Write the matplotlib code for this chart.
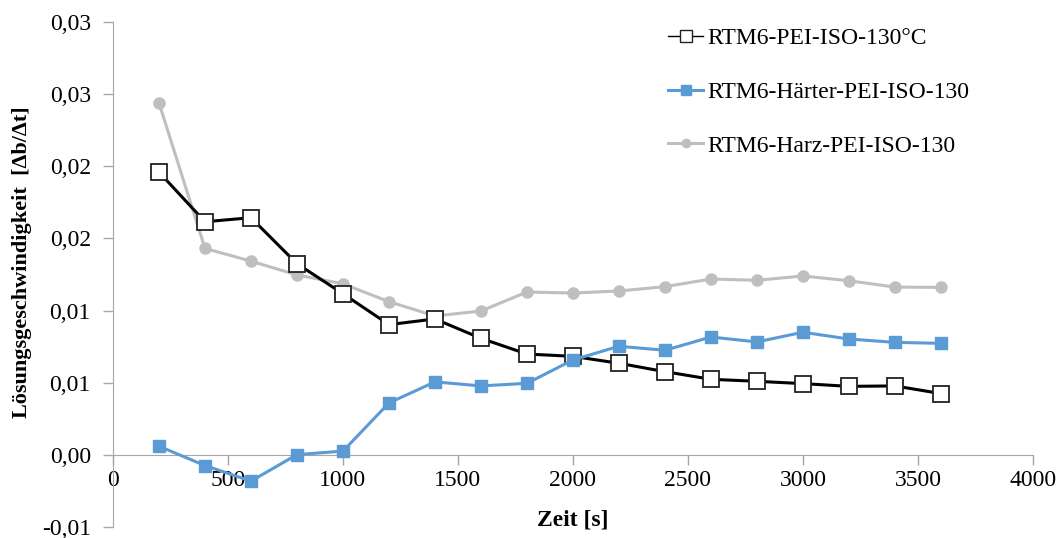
import numpy as np
import matplotlib.pyplot as plt
from matplotlib.ticker import MultipleLocator, FuncFormatter
from matplotlib.lines import Line2D

# Zeitpunkte [s]
zeit = [200, 400, 600, 800, 1000, 1200, 1400, 1600, 1800, 2000,
        2200, 2400, 2600, 2800, 3000, 3200, 3400, 3600]

# Loesungsgeschwindigkeit je Probe
rtm6_pei = [0.01960, 0.01616, 0.01644, 0.01325, 0.01117, 0.00903, 0.00942, 0.00808, 0.00699,
            0.00683, 0.00635, 0.00577, 0.00524, 0.00510, 0.00494, 0.00475, 0.00478, 0.00425]
rtm6_haerter = [0.00060, -0.00074, -0.00182, 0.00002, 0.00026, 0.00360, 0.00506, 0.00478, 0.00496,
                0.00658, 0.00753, 0.00725, 0.00817, 0.00783, 0.00850, 0.00803, 0.00780, 0.00773]
rtm6_harz = [0.02440, 0.01431, 0.01343, 0.01247, 0.01186, 0.01062, 0.00963, 0.00997, 0.01129,
             0.01122, 0.01136, 0.01166, 0.01219, 0.01210, 0.01240, 0.01207, 0.01163, 0.01161]

labels = ['RTM6-PEI-ISO-130°C', 'RTM6-Härter-PEI-ISO-130', 'RTM6-Harz-PEI-ISO-130']

plt.rcParams['font.family'] = ['Liberation Serif', 'DejaVu Serif']

fig = plt.figure(figsize=(10.61, 5.38), dpi=100)
ax = fig.add_axes([0.1065, 0.0204, 0.867, 0.9386])

#   Reihenfolge wie im Original: grau unten, blau oben
l3, = ax.plot(zeit, rtm6_harz, color='#BFBFBF', lw=2.2, marker='o', ms=8,
              mfc='#BFBFBF', mec='#BFBFBF', zorder=2)
l1, = ax.plot(zeit, rtm6_pei, color='black', lw=2.2, marker='s', ms=11,
              mfc='white', mec='#222222', mew=1.3, zorder=3)
l2, = ax.plot(zeit, rtm6_haerter, color='#5B9BD5', lw=2.2, marker='s', ms=8,
              mfc='#5B9BD5', mec='#5B9BD5', zorder=4)

ax.set_xlim(0, 4000)
ax.set_ylim(-0.005, 0.03)
ax.xaxis.set_major_locator(MultipleLocator(500))
ax.yaxis.set_major_locator(MultipleLocator(0.005))


def komma(v, pos):
    r = np.sign(v) * np.floor(abs(v) * 100 + 0.5 + 1e-9) / 100
    return '{:.2f}'.format(r).replace('.', ',')


ax.yaxis.set_major_formatter(FuncFormatter(komma))

for s in ['top', 'right']:
    ax.spines[s].set_visible(False)
ax.spines['bottom'].set_position(('data', 0))
ax.spines['bottom'].set_color('#A6A6A6')
ax.spines['left'].set_color('#A6A6A6')
ax.tick_params(axis='both', colors='#A6A6A6', labelcolor='black', labelsize=17,
               length=7, width=1, direction='out')
ax.tick_params(axis='y', pad=9)
ax.tick_params(axis='x', pad=4)

ax.set_xlabel('Zeit [s]', fontsize=17, fontweight='bold', va='center')
ax.xaxis.set_label_coords(0.5, 0.013)
ax.set_ylabel('Lösungsgeschwindigkeit  [Δb/Δt]', fontsize=16, fontweight='bold', va='center')
ax.yaxis.set_label_coords(-0.099, 0.525)

#   Legende: schwarzer Eintrag mit duenner Linie wie im Original
h1 = Line2D([], [], color='black', lw=1, marker='s', ms=9, mfc='white', mec='#222222', mew=1)
h2 = Line2D([], [], color='#5B9BD5', lw=2.2, marker='s', ms=7, mfc='#5B9BD5', mec='#5B9BD5')
h3 = Line2D([], [], color='#BFBFBF', lw=2.2, marker='o', ms=6, mfc='#BFBFBF', mec='#BFBFBF')
ax.legend([h1, h2, h3], labels, loc='upper left', bbox_to_anchor=(0.5905, 1.012),
          frameon=False, fontsize=17, handlelength=1.5, handletextpad=0.15,
          labelspacing=1.36, borderaxespad=0.1)

fig.savefig('out.png', dpi=100)
